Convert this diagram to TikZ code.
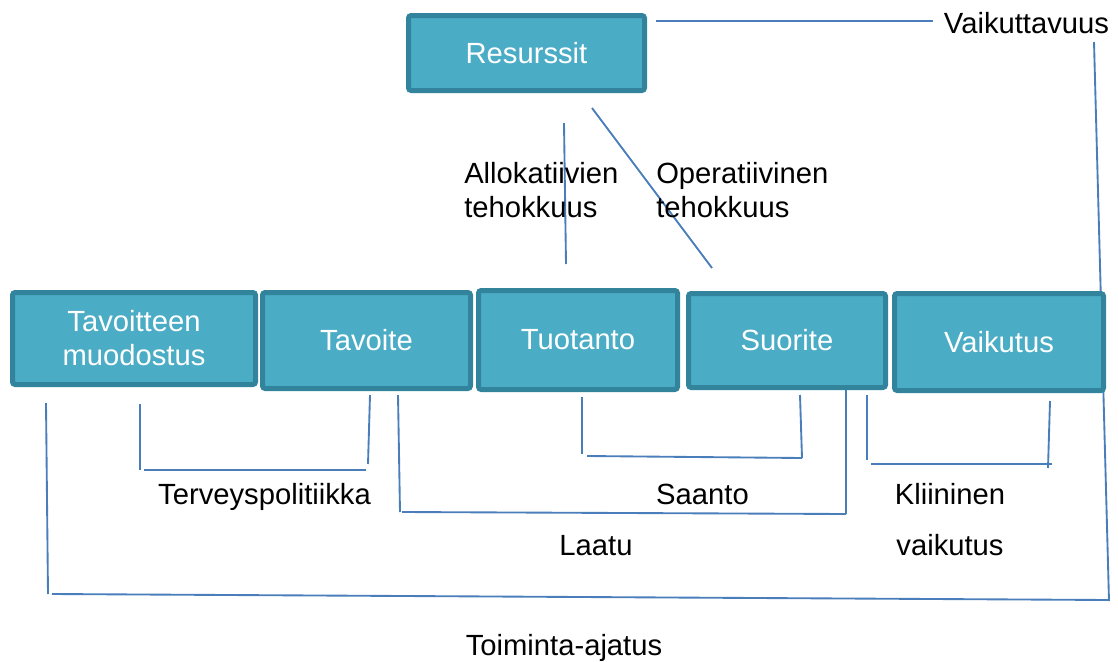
\documentclass[tikz,border=0pt]{standalone}
\usepackage{fontspec}
\setmainfont{Liberation Sans}
\definecolor{boxfill}{HTML}{4BACC6}
\definecolor{boxedge}{HTML}{31849B}
\definecolor{linkblue}{HTML}{4A7EBB}
\newcommand{\dgfont}{\fontsize{21.9pt}{25.5pt}\selectfont}

\begin{document}
\begin{tikzpicture}[x=0.75pt,y=-0.75pt,
  box/.style={rectangle,rounded corners=2pt,draw=boxedge,fill=boxfill,
    line width=3.75pt,text=white,font=\dgfont,align=center,inner sep=0pt},
  lbl/.style={font=\dgfont,inner sep=0pt},
  link/.style={draw=linkblue,line width=1.4pt}]
\useasboundingbox (0,0) rectangle (1118,661);
% \draw[help lines,step=50] (0,0) grid (1118,661);
%
% end points of the bracket lines
\coordinate (vk1) at (656,21);   \coordinate (vk2) at (933,21);
\coordinate (rt1) at (1094,42);  \coordinate (rt2) at (1109,601);
\coordinate (lf1) at (46,403);   \coordinate (lf2) at (48,594);
\coordinate (bt1) at (52,594);   \coordinate (bt2) at (1109,600);
\coordinate (tp1) at (140,404);  \coordinate (tp2) at (140,470);
\coordinate (tp3) at (144,470);  \coordinate (tp4) at (366,470);
\coordinate (tp5) at (370,395);  \coordinate (tp6) at (368,464);
\coordinate (la1) at (398,395);  \coordinate (la2) at (400,512);
\coordinate (la3) at (402,512);  \coordinate (la4) at (846,514);
\coordinate (la5) at (846,385);
\coordinate (sa1) at (582,397);  \coordinate (sa2) at (582,454);
\coordinate (sa3) at (587,456);  \coordinate (sa4) at (802,458);
\coordinate (sa5) at (800,395);
\coordinate (kv1) at (867,395);  \coordinate (kv2) at (867,460);
\coordinate (kv3) at (871,464);  \coordinate (kv4) at (1052,464);
\coordinate (kv5) at (1050,401); \coordinate (kv6) at (1048,468);
\coordinate (al1) at (564,123);  \coordinate (al2) at (566,264);
\coordinate (op1) at (592,108);  \coordinate (op2) at (712,268);
%
\path[link] (vk1) edge (vk2);
\path[link] (rt1) edge (rt2);
\path[link] (lf1) edge (lf2);
\path[link] (bt1) edge (bt2);
\path[link] (tp1) edge (tp2);
\path[link] (tp3) edge (tp4);
\path[link] (tp5) edge (tp6);
\path[link] (la1) edge (la2);
\path[link] (la3) edge (la4);
\path[link] (la5) edge (la4);
\path[link] (sa1) edge (sa2);
\path[link] (sa3) edge (sa4);
\path[link] (sa5) edge (sa4);
\path[link] (kv1) edge (kv2);
\path[link] (kv3) edge (kv4);
\path[link] (kv5) edge (kv6);
\path[link] (al1) edge (al2);
\path[link] (op1) edge (op2);
%
\node (res)  [box,minimum width=177pt,minimum height=56.25pt] at (526.5,53) {Resurssit};
\node (tavm) [box,minimum width=182.25pt,minimum height=69pt] at (134,338.5) {Tavoitteen\\muodostus};
\node (tav)  [box,minimum width=156pt,minimum height=72pt] at (366.5,340.5) {Tavoite};
\node (tuo)  [box,minimum width=149.25pt,minimum height=74.25pt] at (578,340) {Tuotanto};
\node (suo)  [box,minimum width=147.75pt,minimum height=70.5pt] at (787,340.5) {Suorite};
\node (vai)  [box,minimum width=156.75pt,minimum height=72.75pt] at (999,342) {Vaikutus};
%
\node (lvaik)  [lbl,anchor=base] at (1026.5,33) {Vaikuttavuus};
\node (lallok) [lbl,anchor=base west,align=left] at (464,217) {Allokatiivien\\tehokkuus};
\node (loper)  [lbl,anchor=base west,align=left] at (656,217) {Operatiivinen\\tehokkuus};
\node (lterv)  [lbl,anchor=base] at (264.5,504) {Terveyspolitiikka};
\node (lsaan)  [lbl,anchor=base] at (702.5,504) {Saanto};
\node (llaat)  [lbl,anchor=base] at (596,555) {Laatu};
\node (lklin)  [lbl,anchor=base,align=center] at (950,555) {Kliininen\\[12.75pt]vaikutus};
\node (ltoim)  [lbl,anchor=base] at (564,655) {Toiminta-ajatus};
\end{tikzpicture}
\end{document}
